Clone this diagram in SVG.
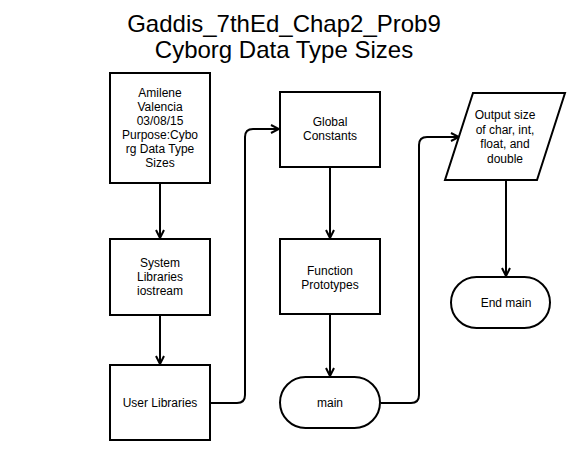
<svg xmlns="http://www.w3.org/2000/svg" width="576" height="460" viewBox="0 0 576 460">
<defs>
<style>
.shape{fill:#fff;stroke:#000;stroke-width:2}
.lbl{font-family:"Liberation Sans",Arial,sans-serif;font-size:12px;fill:#000;text-anchor:middle}
.title{font-family:"Liberation Sans",Arial,sans-serif;font-size:24px;fill:#000;text-anchor:middle}
.conn{fill:none;stroke:#000;stroke-width:2;stroke-linejoin:round}
</style>
<marker id="arr" viewBox="0 0 10 10" refX="9" refY="5" markerWidth="10" markerHeight="10" markerUnits="userSpaceOnUse" orient="auto">
<path d="M1,1 L9,5 L1,9" fill="none" stroke="#000" stroke-width="2"/>
</marker>
</defs>
<rect width="576" height="460" fill="#fff"/>
<g id="title">
<text class="title" x="284" y="32">Gaddis_7thEd_Chap2_Prob9</text>
<text class="title" x="284" y="58">Cyborg Data Type Sizes</text>
</g>
<g id="connectors">
<path class="conn" marker-end="url(#arr)" d="M160,184 L160,238"/>
<path class="conn" marker-end="url(#arr)" d="M160,316 L160,364"/>
<path class="conn" marker-end="url(#arr)" d="M211,403 L237,403 Q245,403 245,395 L245,137 Q245,129 253,129 L279,129"/>
<path class="conn" marker-end="url(#arr)" d="M330,168 L330,238"/>
<path class="conn" marker-end="url(#arr)" d="M330,315 L330,376"/>
<path class="conn" marker-end="url(#arr)" d="M381,403 L411,403 Q419,403 419,395 L419,145 Q419,137 427,137 L459,137"/>
<path class="conn" marker-end="url(#arr)" d="M506,181 L506,276"/>
</g>
<g id="n1">
<rect class="shape" x="110" y="73" width="100" height="110"/>
<text class="lbl" x="160" y="97">Amilene</text>
<text class="lbl" x="160" y="111">Valencia</text>
<text class="lbl" x="160" y="125">03/08/15</text>
<text class="lbl" x="160" y="139">Purpose:Cybo</text>
<text class="lbl" x="160" y="153">rg Data Type</text>
<text class="lbl" x="160" y="167">Sizes</text>
</g>
<g id="n2">
<rect class="shape" x="110" y="239" width="100" height="76"/>
<text class="lbl" x="160" y="267">System</text>
<text class="lbl" x="160" y="281">Libraries</text>
<text class="lbl" x="160" y="295">iostream</text>
</g>
<g id="n3">
<rect class="shape" x="110" y="365" width="100" height="75"/>
<text class="lbl" x="160" y="407">User Libraries</text>
</g>
<g id="n4">
<rect class="shape" x="280" y="92" width="100" height="75"/>
<text class="lbl" x="330" y="126">Global</text>
<text class="lbl" x="330" y="140">Constants</text>
</g>
<g id="n5">
<rect class="shape" x="280" y="239" width="100" height="75"/>
<text class="lbl" x="330" y="275">Function</text>
<text class="lbl" x="330" y="289">Prototypes</text>
</g>
<g id="n6">
<rect class="shape" x="280" y="377" width="100" height="51" rx="25.5" ry="25.5"/>
<text class="lbl" x="330" y="407">main</text>
</g>
<g id="n7">
<path class="shape" d="M473,93 L565,93 L537,180 L445,180 Z"/>
<text class="lbl" x="505" y="119">Output size</text>
<text class="lbl" x="505" y="134">of char, int,</text>
<text class="lbl" x="505" y="148">float, and</text>
<text class="lbl" x="505" y="163">double</text>
</g>
<g id="n8">
<rect class="shape" x="451" y="277" width="99" height="51" rx="25.5" ry="25.5"/>
<text class="lbl" x="506" y="307">End main</text>
</g>
</svg>
